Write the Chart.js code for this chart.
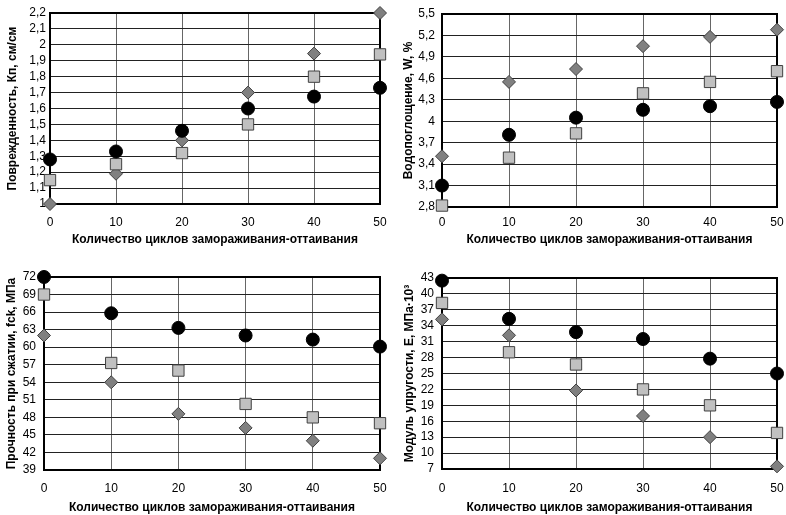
<!DOCTYPE html>
<html lang="ru">
  <head>
    <meta charset="UTF-8" />
    <title>Морозостойкость</title>
    <script src="https://cdn.jsdelivr.net/npm/chart.js@4.4.1/dist/chart.umd.min.js"></script>
    <style>
      html, body { margin: 0; padding: 0; background: #fff; }
      #page { position: relative; width: 786px; height: 515px; }
      .box { position: absolute; }
    </style>
  </head>
  <body>
    <div id="page">
      <div class="box" style="left:0;top:0;width:393px;height:250px"><canvas id="c1"></canvas></div>
      <div class="box" style="left:393px;top:0;width:393px;height:250px"><canvas id="c2"></canvas></div>
      <div class="box" style="left:0;top:250px;width:393px;height:265px"><canvas id="c3"></canvas></div>
      <div class="box" style="left:393px;top:250px;width:393px;height:265px"><canvas id="c4"></canvas></div>
    </div>

    <script>
      // циклы замораживания-оттаивания
      const cycles = [0, 10, 20, 30, 40, 50];
      const xTitle = "Количество циклов замораживания-оттаивания";

      // поврежденность, Кп
      const damageCircle = [1.28, 1.33, 1.46, 1.60, 1.675, 1.73];
      const damageSquare = [1.15, 1.25, 1.32, 1.50, 1.80, 1.94];
      const damageDiamond = [1.00, 1.19, 1.40, 1.70, 1.945, 2.20];

      // водопоглощение, W
      const waterCircle = [3.10, 3.81, 4.05, 4.16, 4.21, 4.27];
      const waterSquare = [2.82, 3.49, 3.83, 4.39, 4.55, 4.70];
      const waterDiamond = [3.51, 4.55, 4.73, 5.05, 5.18, 5.28];

      // прочность при сжатии, fck
      const strengthCircle = [72, 65.8, 63.3, 62, 61.3, 60.1];
      const strengthSquare = [69, 57.3, 56, 50.3, 48, 47];
      const strengthDiamond = [62, 54, 48.6, 46.2, 44, 41];

      // модуль упругости, E
      const modulusCircle = [42.5, 35.3, 32.8, 31.5, 27.8, 25];
      const modulusSquare = [38.3, 29, 26.7, 22, 19, 13.8];
      const modulusDiamond = [35.2, 32.2, 21.8, 17, 13, 7.5];

      function pts(ys) {
        return cycles.map((x, i) => ({ x: x, y: ys[i] }));
      }

      // рамка вокруг области построения
      const frame = {
        id: "frame",
        beforeDatasetsDraw(chart) {
          const a = chart.chartArea;
          const ctx = chart.ctx;
          ctx.save();
          ctx.strokeStyle = "#000";
          ctx.lineWidth = 2;
          ctx.strokeRect(a.left, a.top, a.right - a.left, a.bottom - a.top);
          ctx.restore();
        },
      };

      function fmt(dec) {
        const k = Math.pow(10, dec);
        return (v) => String(Math.round(v * k) / k).replace(".", ",");
      }

      const tickFont = { family: "Liberation Sans, Arial", size: 12 };
      const titleFont = { family: "Liberation Sans, Arial", size: 12, weight: "bold", lineHeight: 1 };

      function makeChart(id, cfg) {
        new Chart(document.getElementById(id), {
          type: "scatter",
          data: {
            datasets: [
              { data: pts(cfg.circle), pointStyle: "circle", pointRadius: 6.5, pointHoverRadius: 6.5,
                backgroundColor: "#000", borderColor: "#000", borderWidth: 1, clip: false },
              { data: pts(cfg.square), pointStyle: "rect", pointRadius: 8, pointHoverRadius: 8,
                backgroundColor: "#c0c0c0", borderColor: "#404040", borderWidth: 1, clip: false },
              { data: pts(cfg.diamond), pointStyle: "rectRot", pointRadius: 6.5, pointHoverRadius: 6.5,
                backgroundColor: "#808080", borderColor: "#404040", borderWidth: 1, clip: false },
            ],
          },
          options: {
            responsive: true,
            maintainAspectRatio: false,
            animation: false,
            events: [],
            layout: { padding: { left: 0, top: cfg.padTop, right: cfg.padRight, bottom: 0 } },
            plugins: { legend: { display: false }, tooltip: { enabled: false } },
            scales: {
              x: {
                type: "linear",
                min: 0,
                max: 50,
                afterFit: (s) => { s.height = cfg.xHeight; },
                border: { display: false },
                grid: { color: "#666", lineWidth: 1, drawTicks: true, tickLength: cfg.xPad, tickColor: "rgba(0,0,0,0)" },
                ticks: { stepSize: 10, padding: 0, color: "#000", font: tickFont },
                title: { display: true, text: xTitle, color: "#000",
                  padding: { top: 0, bottom: cfg.xTitlePad }, font: titleFont },
              },
              y: {
                min: cfg.min,
                max: cfg.max,
                afterFit: (s) => { s.width = cfg.yWidth; },
                border: { display: false },
                grid: { color: "#222", lineWidth: 1, drawTicks: true, tickLength: cfg.yPad, tickColor: "rgba(0,0,0,0)" },
                ticks: { stepSize: cfg.step, padding: 0, autoSkip: false, color: "#000",
                  callback: fmt(cfg.dec), font: tickFont },
                title: { display: true, text: cfg.yTitle, color: "#000",
                  padding: { top: cfg.yTitlePad, bottom: 0 }, font: titleFont },
              },
            },
          },
          plugins: [frame],
        });
      }

      makeChart("c1", {
        circle: damageCircle, square: damageSquare, diamond: damageDiamond,
        min: 1, max: 2.2, step: 0.1, dec: 1, yTitle: "Поврежденность, Кп, см/см",
        padTop: 13, padRight: 13, yWidth: 50, xHeight: 46, xPad: 11, yPad: 4, xTitlePad: 4, yTitlePad: 7,
      });
      makeChart("c2", {
        circle: waterCircle, square: waterSquare, diamond: waterDiamond,
        min: 2.8, max: 5.5, step: 0.3, dec: 1, yTitle: "Водопоглощение, W, %",
        padTop: 14, padRight: 9, yWidth: 49, xHeight: 43, xPad: 8, yPad: 7, xTitlePad: 4, yTitlePad: 10,
      });
      makeChart("c3", {
        circle: strengthCircle, square: strengthSquare, diamond: strengthDiamond,
        min: 39, max: 72, step: 3, dec: 0, yTitle: "Прочность при сжатии, fck, МПа",
        padTop: 27, padRight: 13, yWidth: 44, xHeight: 45, xPad: 11, yPad: 8, xTitlePad: 1, yTitlePad: 6,
      });
      makeChart("c4", {
        circle: modulusCircle, square: modulusSquare, diamond: modulusDiamond,
        min: 7, max: 43, step: 3, dec: 0, yTitle: "Модуль упругости, Е, МПа·10³",
        padTop: 28, padRight: 9, yWidth: 49, xHeight: 46, xPad: 12, yPad: 8, xTitlePad: 1, yTitlePad: 11,
      });
    </script>
  </body>
</html>
